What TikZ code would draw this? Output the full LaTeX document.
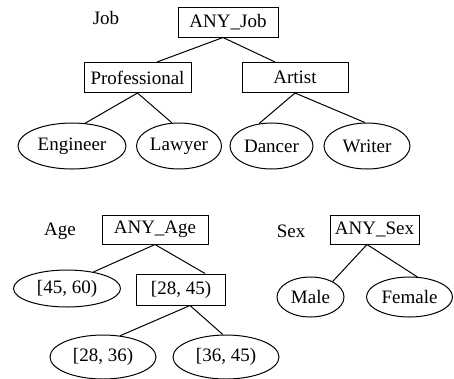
\documentclass[tikz,border=0pt]{standalone}
\usepackage{fontspec}
\setmainfont{Liberation Serif}
\usetikzlibrary{shapes.geometric}

\begin{document}
\begin{tikzpicture}[x=1pt,y=1pt,line width=1pt,
    font=\fontsize{19}{22}\selectfont,
    box/.style={draw,rectangle,inner sep=0pt,minimum width=#1,minimum height=30pt},
    leaf/.style={draw,ellipse,inner sep=0pt,minimum width=#1}]
                \useasboundingbox (0,0) rectangle (454,-378);
                % Job
                \node (joblabel) at (106,-18) {Job};
                \node[box=100pt] (anyjob) at (228,-22) {ANY\_Job};
                \node[box=107pt] (prof) at (137.5,-77.5) {Professional};
                \node[box=106pt] (artist) at (295,-77.5) {Artist};
                \node[leaf=108pt,minimum height=46pt] (eng) at (72,-146) {Engineer};
                \node[leaf=85pt,minimum height=46pt] (lawyer) at (179,-146) {Lawyer};
                \node[leaf=83pt,minimum height=46pt] (dancer) at (271.5,-146) {Dancer};
                \node[leaf=86pt,minimum height=46pt] (writer) at (367,-146) {Writer};
                \draw ([xshift=-5pt]anyjob.south) -- ([xshift=19.5pt]prof.north);
                \draw ([xshift=-5pt]anyjob.south) -- ([xshift=-20pt]artist.north);
                \draw (prof.south) -- (eng.60);
                \draw (prof.south) -- (lawyer.107);
                \draw (artist.south) -- (dancer.119);
                \draw (artist.south) -- (writer.95);
                
                % Age
                \node (agelabel) at (60,-231) {Age};
                \node[box=106pt,minimum height=29pt] (anyage) at (155,-229.5) {ANY\_Age};
                \node[leaf=107pt,minimum height=37pt] (a4560) at (67,-288.5) {[45, 60)};
                \node[box=89pt,minimum height=31pt] (a2845) at (181,-289.5) {[28, 45)};
                \node[leaf=106pt,minimum height=44pt] (a2836) at (103,-357) {[28, 36)};
                \node[leaf=106pt,minimum height=44pt] (a3645) at (226,-357) {[36, 45)};
                \draw (anyage.south) -- (a4560.32);
                \draw (anyage.south) -- ([xshift=24pt]a2845.north);
                \draw ([xshift=9pt]a2845.south) -- (a2836.51);
                \draw ([xshift=9pt]a2845.south) -- (a3645.98);
                
                % Sex
                \node (sexlabel) at (291,-231) {Sex};
                \node[box=89pt,minimum height=29pt] (anysex) at (374.5,-229.5) {ANY\_Sex};
                \node[leaf=67pt,minimum height=40pt] (male) at (310.5,-297) {Male};
                \node[leaf=86pt,minimum height=40pt] (female) at (409.5,-297) {Female};
                \draw ([xshift=-7.5pt]anysex.south) -- (male.35);
                \draw ([xshift=-7.5pt]anysex.south) -- (female.69);
                
            \end{tikzpicture}
\end{document}
